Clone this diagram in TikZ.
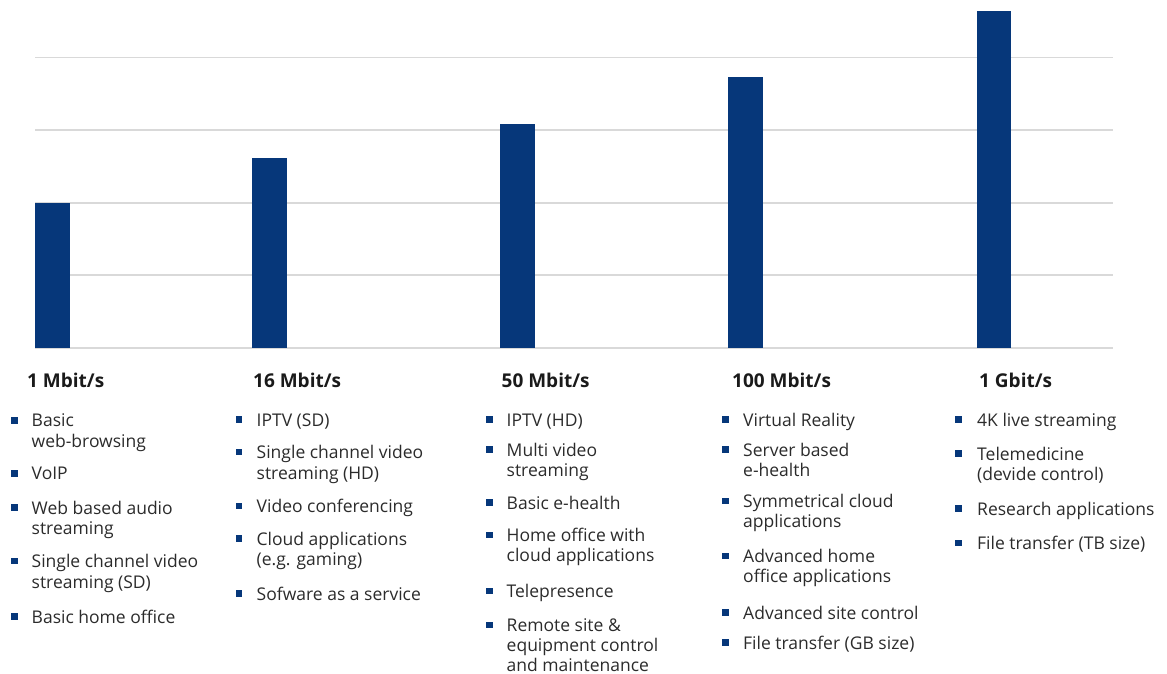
\documentclass[tikz,border=0pt]{standalone}
\usepackage{fontspec}
\setmainfont{Open Sans}
\definecolor{barc}{HTML}{06377A}
\definecolor{gridc}{HTML}{D9D9D9}
\definecolor{txtc}{HTML}{2B2B2B}
\definecolor{hdc}{HTML}{1A1A1A}
\tikzset{
  txt/.style={anchor=base west, inner sep=0pt, font=\fontsize{17.5}{20.5}\selectfont, text=txtc},
  hd/.style={anchor=base west, inner sep=0pt, font=\fontsize{19}{22}\selectfont\bfseries, text=hdc},
  bul/.style={rectangle, fill=barc, minimum size=6.5pt, inner sep=0pt},
  grid/.style={draw=gridc, line width=1.5pt},
  bar/.style={fill=barc}
}
\begin{document}
\begin{tikzpicture}[x=1pt,y=-1pt]
\useasboundingbox (0,0) rectangle (1167,674);
% gridlines
\foreach \gy [count=\i] in {57.5,130,203,275,348}
  \draw[grid] (35,\gy) coordinate (gl\i) -- (1113,\gy) coordinate (gr\i);
% bars
\fill[bar] (35,348) rectangle (70,203);
\fill[bar] (252,348) rectangle (287,158);
\fill[bar] (500,348) rectangle (535,124);
\fill[bar] (728,348) rectangle (763,77.5);
\fill[bar] (977,348) rectangle (1011,11);
% headers
\node[hd] (h1) at (27,387) {1 Mbit/s};
\node[hd] (h2) at (253,387) {16 Mbit/s};
\node[hd] (h3) at (501.5,387) {50 Mbit/s};
\node[hd] (h4) at (732,387) {100 Mbit/s};
\node[hd] (h5) at (979,387) {1 Gbit/s};
% column 1
\node[bul] (b1a) at (14.5,420.3) {};
\node[txt] (t1a1) at (31.5,426.7) {Basic};
\node[txt] (t1a2) at (31.5,447.3) {web-browsing};
\node[bul] (b1b) at (14.5,473.3) {};
\node[txt] (t1b1) at (31.5,479.3) {VoIP};
\node[bul] (b1c) at (14.5,507.7) {};
\node[txt] (t1c1) at (31.5,514) {Web based audio};
\node[txt] (t1c2) at (31.5,534.7) {streaming};
\node[bul] (b1d) at (14.5,561) {};
\node[txt] (t1d1) at (31.5,567.3) {Single channel video};
\node[txt] (t1d2) at (31.5,588) {streaming (SD)};
\node[bul] (b1e) at (14.5,616.7) {};
\node[txt] (t1e1) at (31.5,623.3) {Basic home office};
% column 2
\node[bul] (b2a) at (239,419.5) {};
\node[txt] (t2a1) at (256.5,426) {IPTV (SD)};
\node[bul] (b2b) at (239,451.8) {};
\node[txt] (t2b1) at (256.5,458.3) {Single channel video};
\node[txt] (t2b2) at (256.5,479) {streaming (HD)};
\node[bul] (b2c) at (239,505.8) {};
\node[txt] (t2c1) at (256.5,512.3) {Video conferencing};
\node[bul] (b2d) at (239,538.5) {};
\node[txt] (t2d1) at (256.5,545) {Cloud applications};
\node[txt] (t2d2) at (256.5,565.7) {(e.g. gaming)};
\node[bul] (b2e) at (239,593.5) {};
\node[txt] (t2e1) at (256.5,600) {Sofware as a service};
% column 3
\node[bul] (b3a) at (489.7,419.5) {};
\node[txt] (t3a1) at (506.5,426) {IPTV (HD)};
\node[bul] (b3b) at (489.7,449.5) {};
\node[txt] (t3b1) at (506.5,456) {Multi video};
\node[txt] (t3b2) at (506.5,476) {streaming};
\node[bul] (b3c) at (489.7,502.5) {};
\node[txt] (t3c1) at (506.5,509) {Basic e-health};
\node[bul] (b3d) at (489.7,535.2) {};
\node[txt] (t3d1) at (506.5,541.7) {Home office with};
\node[txt] (t3d2) at (506.5,561.7) {cloud applications};
\node[bul] (b3e) at (489.7,591.2) {};
\node[txt] (t3e1) at (506.5,597.7) {Telepresence};
\node[bul] (b3f) at (489.7,625.2) {};
\node[txt] (t3f1) at (506.5,631.7) {Remote site \&};
\node[txt] (t3f2) at (506.5,651.7) {equipment control};
\node[txt] (t3f3) at (506.5,671.7) {and maintenance};
% column 4
\node[bul] (b4a) at (725.3,419.5) {};
\node[txt] (t4a1) at (743,426) {Virtual Reality};
\node[bul] (b4b) at (725.3,449.5) {};
\node[txt] (t4b1) at (743,456) {Server based};
\node[txt] (t4b2) at (743,476) {e-health};
\node[bul] (b4c) at (725.3,500.8) {};
\node[txt] (t4c1) at (743,507.3) {Symmetrical cloud};
\node[txt] (t4c2) at (743,527.3) {applications};
\node[bul] (b4d) at (725.3,555.8) {};
\node[txt] (t4d1) at (743,562.3) {Advanced home};
\node[txt] (t4d2) at (743,582.3) {office applications};
\node[bul] (b4e) at (725.3,612.5) {};
\node[txt] (t4e1) at (743,619) {Advanced site control};
\node[bul] (b4f) at (725.3,642.5) {};
\node[txt] (t4f1) at (743,649) {File transfer (GB size)};
% column 5
\node[bul] (b5a) at (958.5,419.5) {};
\node[txt] (t5a1) at (977,426) {4K live streaming};
\node[bul] (b5b) at (958.5,453.5) {};
\node[txt] (t5b1) at (977,460) {Telemedicine};
\node[txt] (t5b2) at (977,480.7) {(devide control)};
\node[bul] (b5c) at (958.5,508.5) {};
\node[txt] (t5c1) at (977,515) {Research applications};
\node[bul] (b5d) at (958.5,542.8) {};
\node[txt] (t5d1) at (977,549.3) {File transfer (TB size)};
\end{tikzpicture}
\end{document}
